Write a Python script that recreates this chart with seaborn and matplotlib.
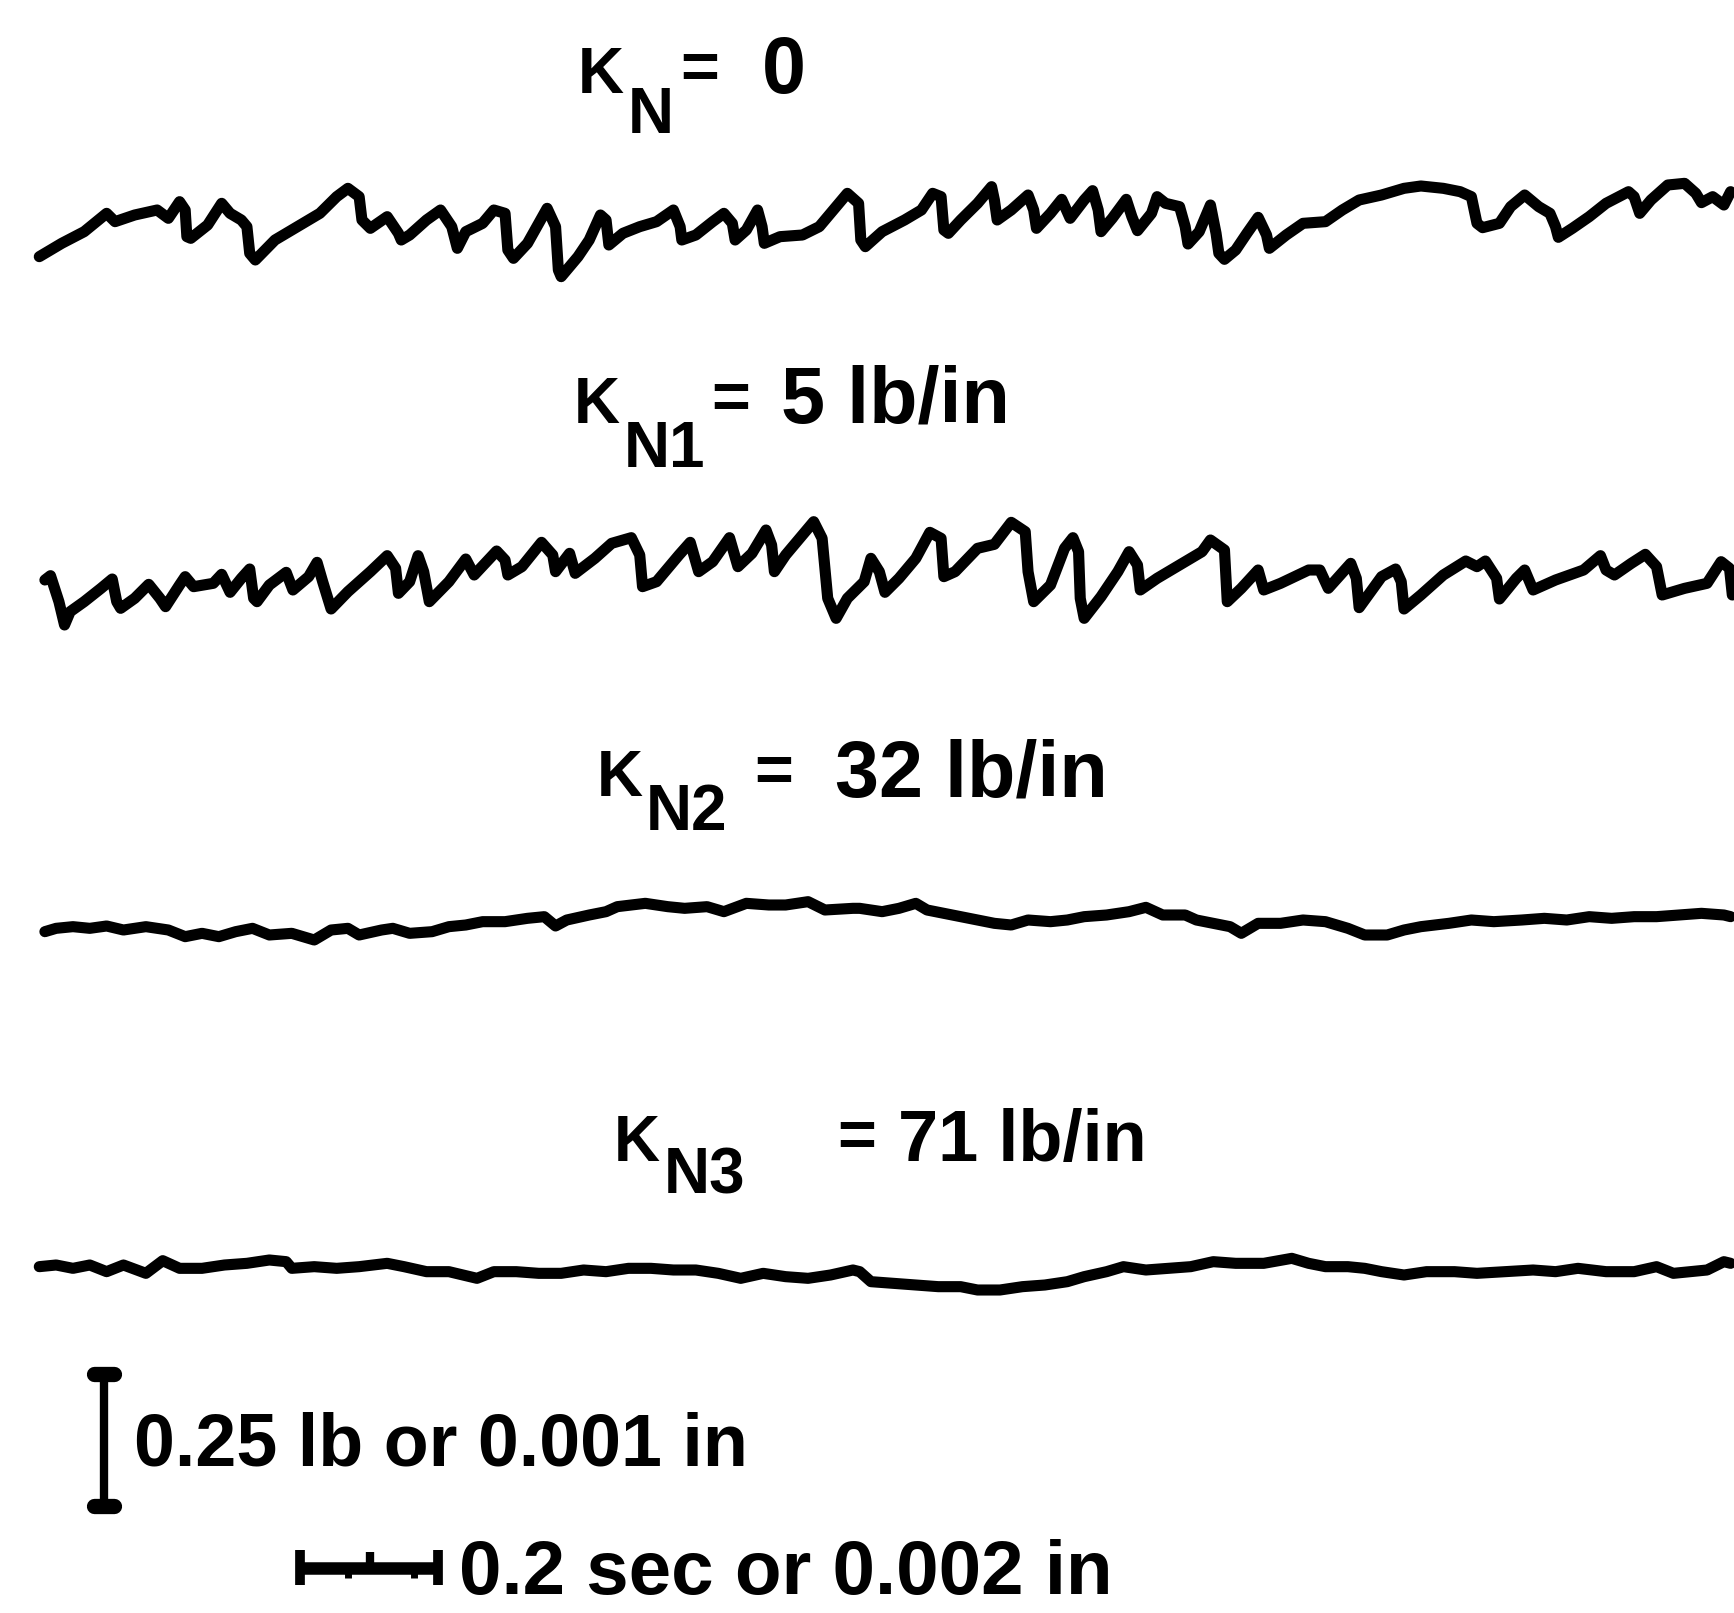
import numpy as np
import pandas as pd
import seaborn as sns
import matplotlib.pyplot as plt

sns.set_theme(style="white")
plt.rcParams['font.family'] = ['Liberation Sans', 'DejaVu Sans']

k0_t = [70, 110, 150, 190, 205, 240, 280, 300, 320, 330, 333, 340, 370, 395, 410, 430, 440, 445, 455, 490,
        530, 570, 600, 620, 640, 645, 660, 690, 710, 715, 730, 760, 785, 805, 815, 830, 860, 880, 900, 905,
        915, 940, 960, 975, 990, 995, 1000, 1010, 1030, 1050, 1070, 1080, 1085, 1110, 1140, 1170, 1200, 1212,
        1215, 1240, 1270, 1290, 1305, 1310, 1330, 1350, 1358, 1362, 1390, 1430, 1460, 1490, 1510, 1530, 1534,
        1542, 1572, 1612, 1642, 1662, 1677, 1682, 1690, 1712, 1742, 1767, 1772, 1777, 1802, 1832, 1842, 1847,
        1872, 1892, 1907, 1932, 1947, 1957, 1962, 1982, 2007, 2017, 2027, 2052, 2062, 2077, 2102, 2112, 2117,
        2137, 2157, 2167, 2172, 2182, 2202, 2222, 2242, 2257, 2262, 2292, 2322, 2362, 2392, 2422, 2462, 2502,
        2532, 2572, 2602, 2622, 2632, 2642, 2672, 2692, 2717, 2742, 2762, 2772, 2777, 2802, 2832, 2862, 2902,
        2912, 2922, 2942, 2972, 3002, 3022, 3032, 3052, 3072, 3084]
k0_d = [290, 250, 215, 160, 185, 165, 150, 175, 125, 150, 230, 235, 195, 130, 160, 180, 200, 280, 300, 240,
        200, 160, 110, 85, 110, 180, 205, 170, 220, 240, 225, 180, 150, 200, 265, 215, 190, 150, 160, 270,
        295, 250, 190, 145, 200, 330, 350, 330, 290, 240, 165, 180, 255, 220, 200, 185, 150, 200,
        240, 225, 185, 160, 190, 240, 210, 150, 200, 250, 230, 225, 200, 140, 100, 130, 240,
        260, 215, 180, 150, 100, 110, 210, 220, 180, 130, 80, 120, 180, 150, 105, 150, 205,
        160, 118, 175, 120, 92, 150, 215, 175, 118, 170, 212, 160, 110, 130, 140, 200, 252,
        215, 135, 220, 280, 298, 270, 220, 172, 225, 265, 225, 190, 185, 150, 120, 105, 85,
        78, 85, 95, 110, 190, 203, 190, 140, 105, 140, 160, 200, 232, 205, 170, 130, 95,
        110, 160, 120, 75, 70, 100, 128, 110, 135, 95]

k1_t = [80, 90, 105, 115, 125, 150, 180, 200, 208, 215, 240, 265, 285, 295, 320, 330, 345, 380, 395, 410,
        430, 445, 452, 458, 480, 510, 522, 550, 565, 575, 590, 620, 660, 690, 705, 710, 730, 745, 755, 765,
        800, 830, 845, 885, 900, 905, 930, 965, 985, 990, 1015, 1025, 1060, 1090, 1125, 1140, 1145, 1170,
        1210, 1230, 1245, 1270, 1300, 1315, 1340, 1365, 1375, 1380, 1400, 1420, 1450, 1465, 1475, 1490,
        1510, 1540, 1552, 1567, 1577, 1602, 1632, 1657, 1677, 1682, 1702, 1742, 1772, 1802, 1827, 1832,
        1842, 1872, 1897, 1912, 1922, 1925, 1932, 1962, 1992, 2012, 2027, 2032, 2062, 2112, 2142, 2157,
        2182, 2187, 2212, 2242, 2252, 2282, 2332, 2352, 2367, 2407, 2417, 2422, 2462, 2487, 2497, 2502,
        2532, 2572, 2612, 2632, 2647, 2667, 2672, 2702, 2717, 2732, 2772, 2822, 2852, 2862, 2877, 2907,
        2932, 2952, 2962, 3002, 3042, 3067, 3082, 3087]
k1_d = [225, 212, 290, 360, 320, 290, 250, 222, 290, 310, 280, 238, 280, 305, 240, 215, 245, 235, 208, 262,
        220, 192, 280, 290, 240, 202, 255, 215, 172, 230, 312, 260, 200, 152, 190, 265, 230, 152, 200, 290,
        230, 162, 210, 138, 165, 210, 185, 112, 150, 200, 145, 205, 160, 115, 98, 150, 245, 230,
        150, 112, 200, 170, 98, 185, 145, 75, 120, 200, 150, 110, 50, 100, 280, 340,
        280, 230, 160, 200, 262, 220, 160, 82, 100, 215, 200, 130, 118, 52, 80, 200,
        290, 240, 130, 98, 140, 280, 340, 275, 200, 140, 180, 255, 220, 170, 140, 105,
        135, 290, 250, 195, 255, 235, 195, 195, 250, 175, 220, 308, 215, 192, 230, 312,
        270, 210, 168, 185, 168, 220, 282, 220, 195, 255, 225, 195, 152, 195, 210, 175,
        148, 185, 270, 250, 235, 170, 190, 270]

k2_t = [80, 100, 130, 160, 190, 220, 260, 300, 330, 360, 390, 420, 450, 480, 520, 560, 590, 620, 640, 680,
        700, 730, 770, 800, 830, 860, 900, 940, 970, 990, 1010, 1050, 1080, 1100, 1150, 1190, 1220, 1260,
        1290, 1330, 1370, 1400, 1440, 1470, 1520, 1532, 1572, 1602, 1632, 1652, 1682, 1712, 1742, 1772,
        1802, 1832, 1872, 1902, 1932, 1972, 2012, 2042, 2072, 2112, 2132, 2162, 2192, 2212, 2242, 2282,
        2322, 2362, 2402, 2432, 2472, 2502, 2532, 2582, 2622, 2662, 2712, 2752, 2792, 2832, 2872, 2912,
        2952, 2992, 3032, 3072, 3084]
k2_d = [185, 175, 170, 175, 168, 180, 170, 180, 200, 190, 200, 185, 175, 195, 190, 210, 180, 175, 195, 180,
        175, 190, 185, 170, 165, 155, 155, 145, 140, 168, 150, 135, 125, 110, 100, 110, 115, 110,
        125, 100, 105, 105, 95, 120, 115, 115, 125, 115, 100, 120, 130, 140, 150, 160,
        165, 150, 155, 150, 140, 135, 125, 112, 135, 135, 150, 160, 170, 190, 160, 160,
        150, 155, 175, 195, 195, 180, 170, 160, 150, 155, 150, 145, 150, 140, 145, 140,
        140, 135, 130, 135, 140]

k3_t = [70, 100, 130, 160, 190, 220, 260, 290, 320, 360, 400, 440, 480, 510, 520, 560, 600, 640, 690, 720,
        760, 800, 850, 880, 920, 960, 1000, 1040, 1080, 1120, 1160, 1200, 1240, 1280, 1320, 1360, 1400,
        1440, 1480, 1520, 1532, 1552, 1592, 1632, 1672, 1712, 1742, 1782, 1822, 1862, 1902, 1932, 1972,
        2002, 2042, 2082, 2122, 2162, 2202, 2252, 2302, 2332, 2362, 2402, 2432, 2462, 2502, 2542, 2592,
        2632, 2682, 2732, 2772, 2812, 2862, 2912, 2952, 2982, 3012, 3042, 3072, 3084]
k3_d = [110, 105, 115, 105, 125, 105, 130, 92, 115, 115, 105, 100, 90, 95, 115, 110, 115, 110, 100, 110,
        125, 125, 145, 125, 125, 130, 130, 120, 125, 115, 115, 120, 120, 130, 145, 130, 140,
        145, 135, 120, 125, 155, 160, 165, 170, 170, 180, 180, 170, 165, 155, 140, 125,
        110, 120, 115, 110, 95, 100, 100, 85, 100, 110, 110, 115, 125, 135, 125, 125,
        130, 125, 120, 125, 115, 125, 125, 110, 130, 125, 120, 95, 100]

titles = [("K", "N", "0"), ("K", "N1", "5 lb/in"), ("K", "N2", "32 lb/in"), ("K", "N3", "71 lb/in")]
force_scale_label = "0.25 lb or 0.001 in"
time_scale_label = "0.2 sec or 0.002 in"

# ---------------- figure
W, H = 1734, 1613
fig = plt.figure(figsize=(W / 100, H / 100), dpi=100)
fig.patch.set_facecolor("white")

traces = [(k0_t, k0_d, 160, 130, 390), (k1_t, k1_d, 505, 130, 390),
          (k2_t, k2_d, 870, 90, 270), (k3_t, k3_d, 1230, 90, 270)]
for t, d, top, hgt, ymax in traces:
    ax = fig.add_axes([0, 1 - (top + hgt) / H, 1, hgt / H])
    df = pd.DataFrame({"t": t, "d": d})
    sns.lineplot(data=df, x="t", y="d", ax=ax, sort=False, estimator=None,
                 color="black", linewidth=8)
    for ln in ax.lines:
        ln.set_clip_on(False)
        ln.set_solid_joinstyle("round")
        ln.set_solid_capstyle("round")
    ax.set_xlim(0, 3090)
    ax.set_ylim(ymax, 0)
    ax.axis("off")

# overlay for labels and scale bars (pixel coordinates)
ov = fig.add_axes([0, 0, 1, 1])
ov.set_xlim(0, W)
ov.set_ylim(H, 0)
ov.axis("off")

txt = dict(color="black", fontweight="bold", va="baseline")
# title positions: (K left, K baseline, sub left, sub baseline, eq x, value left, value size)
tpos = [(578, 93, 628, 133, 700, 762, 57),
        (574, 423, 624, 467, 731, 781, 57),
        (597, 796, 646, 830, 774, 835, 57),
        (614, 1161, 664, 1194, 857, 898, 52)]
for (k, sub, val), (kx, ky, sx, sy, ex, vx, vs) in zip(titles, tpos):
    ov.text(kx, ky, k, fontsize=46, ha="left", **txt)
    ov.text(sx, sy, sub, fontsize=46, ha="left", **txt)
    ov.text(ex, ky - 4, "=", fontsize=48, ha="center", **txt)
    ov.text(vx, ky, val, fontsize=vs, ha="left", **txt)

ov.text(134, 1465, force_scale_label, fontsize=53, ha="left", **txt)
ov.text(459, 1594, time_scale_label, fontsize=55, ha="left", **txt)

# vertical scale bar
ov.plot([104, 104], [1372, 1508], color="black", lw=6, solid_capstyle="butt")
for yy in (1374, 1506):
    ov.plot([94, 114], [yy, yy], color="black", lw=11, solid_capstyle="round")
# horizontal scale bar
ov.plot([298, 440], [1568, 1568], color="black", lw=9, solid_capstyle="butt")
for xx in (300, 438):
    ov.plot([xx, xx], [1550, 1585], color="black", lw=7, solid_capstyle="butt")
ov.plot([370, 370], [1552, 1568], color="black", lw=6, solid_capstyle="butt")
for xx in (348, 414):
    ov.plot([xx, xx], [1568, 1578], color="black", lw=5, solid_capstyle="butt")

fig.savefig("out.png", dpi=100, facecolor="white")
